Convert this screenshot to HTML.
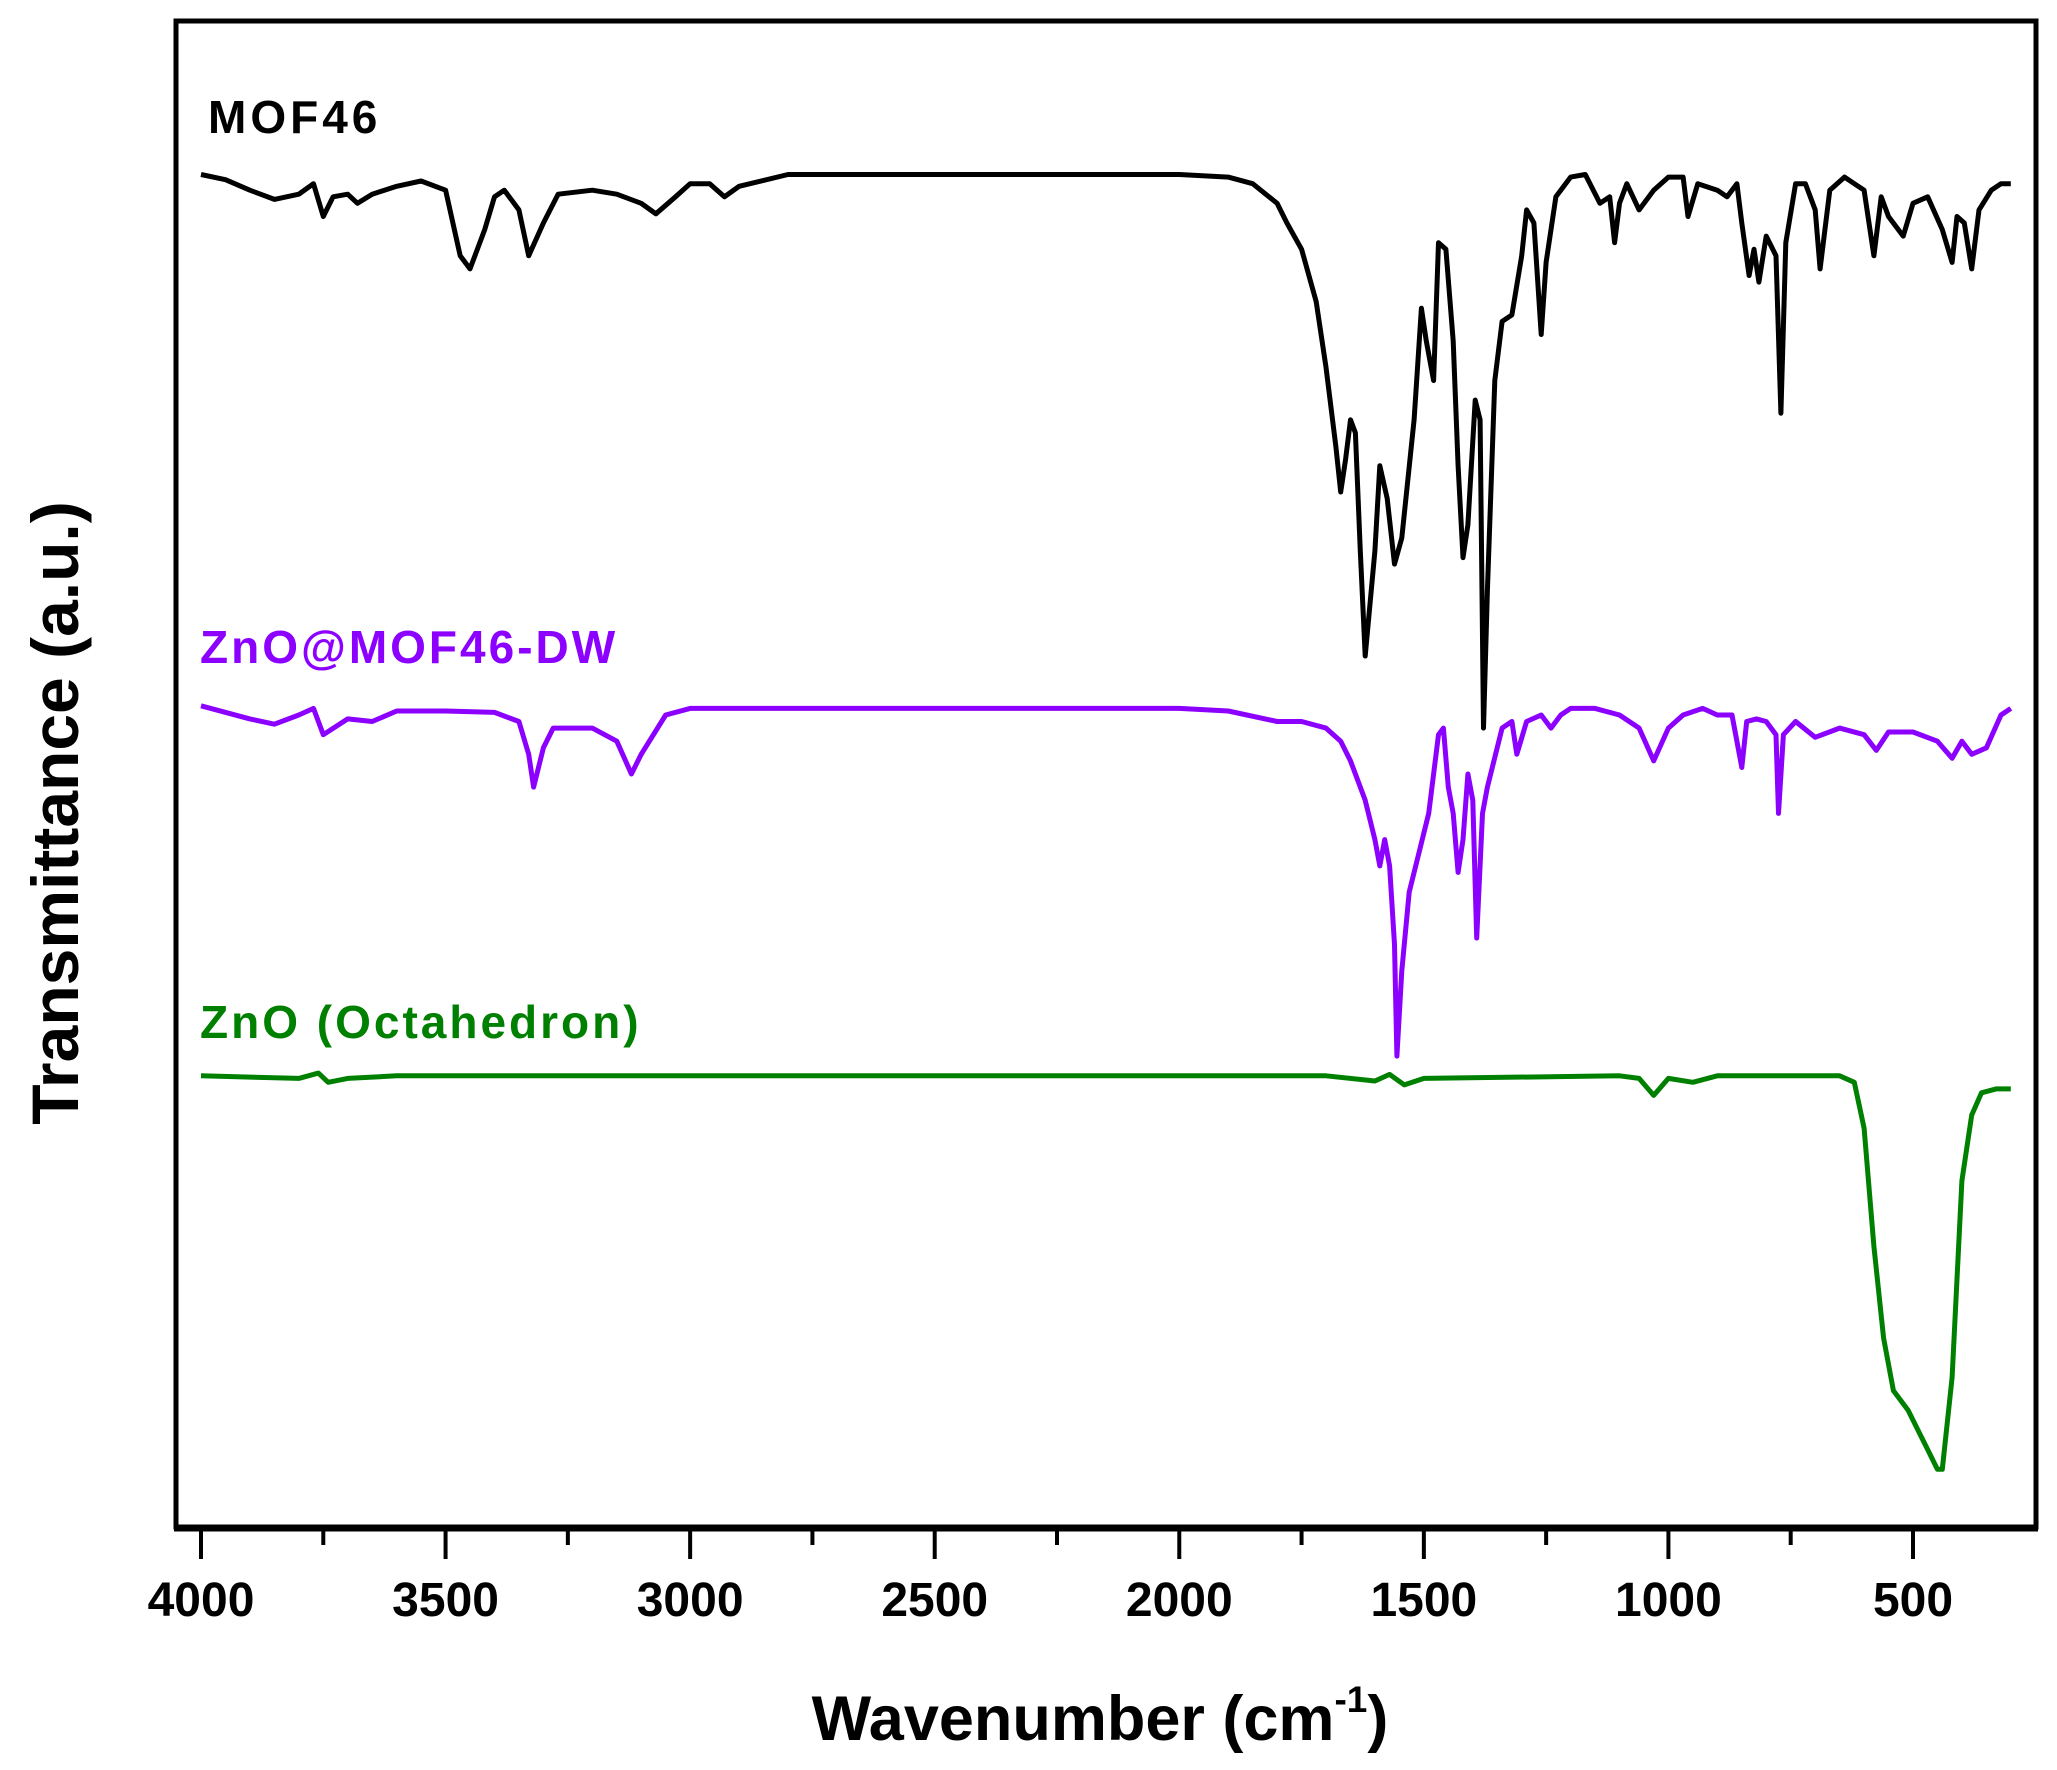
<!DOCTYPE html>
<html><head><meta charset="utf-8"><style>
html,body{margin:0;padding:0;background:#fff;}
svg{display:block;}
text{font-family:"Liberation Sans",Arial,sans-serif;font-weight:bold;}
</style></head><body>
<svg id="chart" width="2057" height="1770" viewBox="0 0 2057 1770" xmlns="http://www.w3.org/2000/svg">
<rect x="0" y="0" width="2057" height="1770" fill="#ffffff"/>
<g id="series"></g>
<rect x="176" y="21" width="1860" height="1506" fill="none" stroke="#000" stroke-width="5"/>
<line x1="174" y1="1528" x2="2038" y2="1528" stroke="#000" stroke-width="7"/>
<g id="ticks"></g>
<text x="1100" y="1740" font-size="63" text-anchor="middle">Wavenumber (cm<tspan dy="-28" font-size="37">-1</tspan><tspan dy="28">)</tspan></text>
<text transform="translate(78,813) rotate(-90)" font-size="66" text-anchor="middle">Transmittance (a.u.)</text>
<text x="208" y="133" font-size="46" letter-spacing="4" fill="#000">MOF46</text>
<text x="200" y="663" font-size="46" letter-spacing="3" fill="#8b00ff">ZnO@MOF46-DW</text>
<text x="200" y="1038" font-size="46" letter-spacing="3" fill="#008000">ZnO (Octahedron)</text>
</svg>
<script>
const xTicks = [4000,3500,3000,2500,2000,1500,1000,500];
const xMinor = [3750,3250,2750,2250,1750,1250,750];
const mof46W = [4000,3950,3900,3850,3800,3770,3750,3730,3700,3680,3650,3600,3550,3500,3470,3450,3420,3400,3380,3350,3330,3300,3270,3200,3150,3100,3070,3030,3000,2960,2930,2900,2800,2000,1900,1850,1800,1780,1750,1720,1700,1680,1670,1660,1650,1640,1630,1620,1600,1590,1575,1560,1545,1520,1505,1495,1480,1470,1455,1440,1430,1420,1410,1395,1385,1378,1370,1355,1340,1320,1300,1290,1275,1260,1250,1230,1200,1170,1140,1120,1110,1100,1085,1060,1030,1000,970,960,940,900,880,860,850,835,825,815,800,780,770,760,740,720,700,690,670,640,620,600,580,565,550,520,500,470,440,420,410,395,380,365,340,320,300];
const mof46T = [133,137,145,152,148,140,165,150,148,155,148,142,138,145,195,205,175,150,145,160,195,170,148,145,148,155,163,150,140,140,150,142,133,133,135,140,155,170,190,230,280,340,375,350,320,330,420,500,420,355,380,430,410,320,235,260,290,185,190,260,355,425,400,305,320,555,450,290,245,240,195,160,170,255,200,150,135,133,155,150,185,155,140,160,145,135,135,165,140,145,150,140,170,210,190,215,180,195,315,185,140,140,160,205,145,135,140,145,195,150,165,180,155,150,175,200,165,170,205,160,145,140,140];
const dwW = [4000,3900,3850,3800,3770,3750,3700,3650,3600,3500,3400,3350,3330,3320,3300,3280,3200,3150,3120,3100,3050,3000,2000,1900,1800,1750,1700,1670,1650,1620,1600,1590,1580,1570,1560,1555,1545,1530,1510,1490,1470,1460,1450,1440,1430,1420,1410,1400,1392,1380,1370,1340,1320,1310,1290,1260,1240,1220,1200,1150,1100,1060,1030,1000,970,930,900,870,850,840,820,800,780,775,765,740,700,650,600,575,550,500,450,420,400,380,350,320,300];
const dwT = [538,548,552,545,540,560,548,550,542,542,543,550,575,600,570,555,555,565,590,575,545,540,540,542,550,550,555,565,580,610,640,660,640,660,720,805,740,680,650,620,560,555,600,620,665,640,590,610,715,620,600,555,550,575,550,545,555,545,540,540,545,555,580,555,545,540,545,545,585,550,548,550,560,620,560,550,562,555,560,572,558,558,565,578,565,575,570,545,540];
const znoW = [4000,3800,3760,3740,3700,3600,2000,1700,1600,1570,1540,1500,1100,1060,1030,1000,950,900,650,620,600,580,560,540,510,490,470,450,440,420,400,380,360,330,300];
const znoT = [820,822,818,825,822,820,820,820,824,819,827,822,820,822,835,822,825,820,820,825,860,950,1020,1060,1075,1090,1105,1120,1120,1050,900,850,833,830,830];

function xS(w){ return 201 + (4000 - w) * 0.48914; }
function yS(t){ return t * 1.3119; }

const NS = "http://www.w3.org/2000/svg";
const sg = document.getElementById('series');
function drawLine(ws, ts, color, name){
  const p = document.createElementNS(NS,'path');
  let d = '';
  for(let i=0;i<ws.length;i++){ d += (i?'L':'M') + xS(ws[i]).toFixed(1) + ',' + yS(ts[i]).toFixed(1); }
  p.setAttribute('d', d);
  p.setAttribute('fill','none');
  p.setAttribute('stroke',color);
  p.setAttribute('stroke-width','5');
  p.setAttribute('stroke-linejoin','round');
  
  
  sg.appendChild(p);
}
drawLine(mof46W, mof46T, '#000000', 'series-mof46');
drawLine(dwW, dwT, '#8b00ff', 'series-zno-mof46-dw');
drawLine(znoW, znoT, '#008000', 'series-zno-octahedron');

const tg = document.getElementById('ticks');
xTicks.forEach(function(w){
  const l = document.createElementNS(NS,'line');
  l.setAttribute('x1', xS(w)); l.setAttribute('x2', xS(w));
  l.setAttribute('y1', 1527); l.setAttribute('y2', 1559);
  l.setAttribute('stroke','#000'); l.setAttribute('stroke-width','4');
  
  
  tg.appendChild(l);
  const t = document.createElementNS(NS,'text');
  t.setAttribute('x', xS(w)); t.setAttribute('y', 1616);
  t.setAttribute('font-size','48'); t.setAttribute('text-anchor','middle');
  t.textContent = w;
  
  
  tg.appendChild(t);
});
xMinor.forEach(function(w){
  const l = document.createElementNS(NS,'line');
  l.setAttribute('x1', xS(w)); l.setAttribute('x2', xS(w));
  l.setAttribute('y1', 1527); l.setAttribute('y2', 1545);
  l.setAttribute('stroke','#000'); l.setAttribute('stroke-width','4');
  
  
  tg.appendChild(l);
});
</script>
</body></html>
